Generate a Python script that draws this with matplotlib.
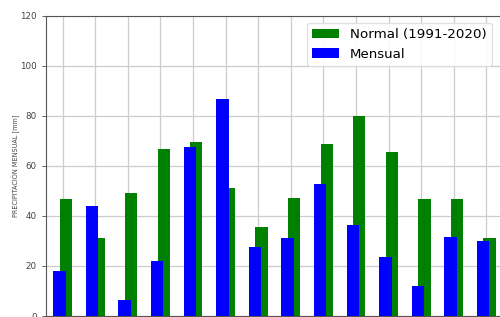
import matplotlib
matplotlib.use('Agg')
import matplotlib.pyplot as plt
import numpy as np

# monthly precipitation
normal = [46.8, 31.1, 49.1, 66.9, 69.7, 51.1, 35.7, 47.1, 68.9, 79.9, 65.7, 46.8, 46.8, 31.1]
mensual = [17.9, 43.9, 6.3, 21.9, 67.5, 86.9, 27.5, 31.1, 52.7, 36.3, 23.5, 12.1, 31.6, 30.1]
labels = ['Normal (1991-2020)', 'Mensual']
ylabel = 'PRECIPITACIÓN MENSUAL [mm]'

x = np.arange(len(normal))

fig = plt.figure(figsize=(5.0, 3.17), dpi=100)
# axes run past the right edge, like the cropped original
ax = fig.add_axes([45.7 / 500, 1 / 317, (550 - 45.7) / 500, 300.3 / 317])

ax.bar(x + 0.1, normal, width=0.38, color='green', label=labels[0], zorder=2)
ax.bar(x - 0.1, mensual, width=0.38, color='blue', label=labels[1], zorder=3)

ax.set_xlim(-0.52, 14.95)
ax.set_ylim(0, 120)
ax.set_yticks(np.arange(0, 121, 20))
ax.set_xticks(x)
ax.set_xticklabels([])
ax.tick_params(axis='y', labelsize=6.3, length=3, width=0.6, colors='#444444')
ax.tick_params(axis='x', length=0)
ax.grid(True, color='#cccccc', linewidth=0.9)
ax.set_axisbelow(True)
for s in ax.spines.values():
    s.set_color('#555555')
    s.set_linewidth(0.8)

ax.set_ylabel(ylabel, fontsize=4.7, color='#444444')
ax.yaxis.set_label_coords(-0.05, 0.5)

ax.legend(loc='upper left', bbox_to_anchor=(307 / 500, 1 - 22.7 / 317),
          bbox_transform=fig.transFigure, borderaxespad=0, fontsize=9.6,
          framealpha=0.9, edgecolor='#dddddd', fancybox=True)

fig.savefig('out.png', dpi=100)
